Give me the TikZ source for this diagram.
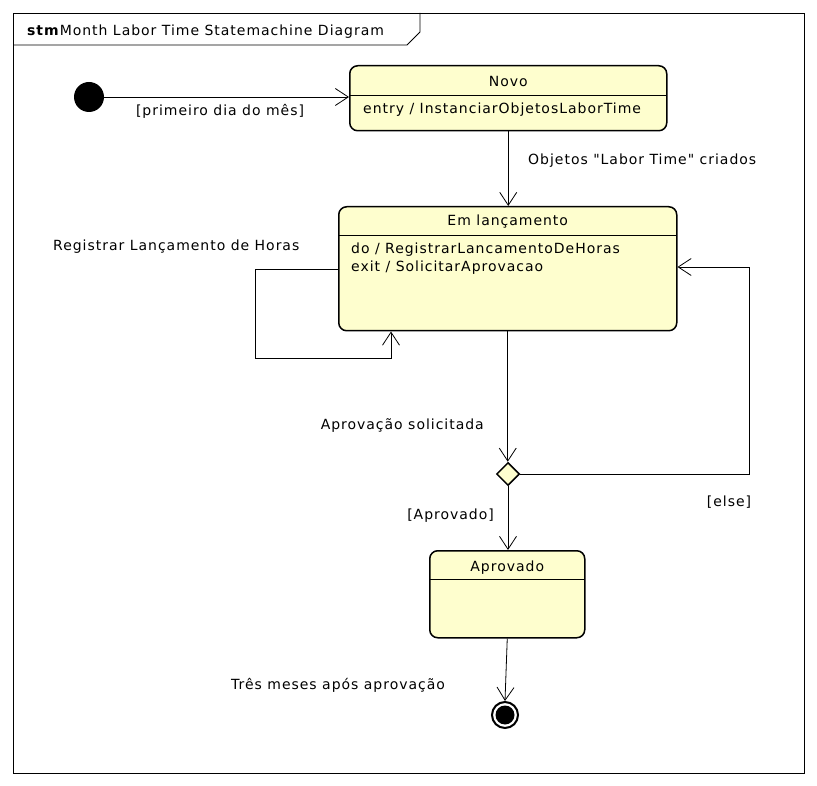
\documentclass[tikz,border=0pt]{standalone}
\usepackage{fontspec}
\setmainfont{DejaVu Sans}[LetterSpace=7, Ligatures=TeXOff]
\usetikzlibrary{arrows.meta,shapes.geometric}
\definecolor{statefill}{HTML}{FEFECE}
\tikzset{
  state/.style={draw, line width=1.5pt, fill=statefill, rounded corners=8pt, inner sep=0pt, anchor=north west},
  trans/.style={line width=0.8pt, -{Straight Barb[length=13pt,width=17pt,line width=0.8pt]}},
  lbl/.style={inner sep=0pt, font=\fontsize{14}{16}\selectfont},
}

\begin{document}
\begin{tikzpicture}[x=1pt,y=-1pt]
        \useasboundingbox (0,0) rectangle (817,786);
        \fill[white] (0,0) rectangle (817,786);

        % frame
        \draw[line width=0.8pt] (13,13) rectangle (804,773);
        \draw[line width=0.8pt] (13,45) -- (407,45) -- (420,32) -- (420,13);
        \node[lbl, anchor=base west] (title) at (27,36) {\textbf{stm}Month Labor Time Statemachine Diagram};

        % states
        \node[circle, fill=black, minimum size=30pt, inner sep=0pt] (init) at (89,97) {};

        \node[state, minimum width=317pt, minimum height=65pt] (novo) at (349,65) {};
        \draw[line width=0.8pt] (349,95) -- (666,95);
        \node[lbl, anchor=base] (novoname) at (novo.north |- 0,87) {Novo};
        \node[lbl, anchor=base west] (novoentry) at (363,114) {entry / InstanciarObjetosLaborTime};

        \node[state, minimum width=338pt, minimum height=124pt] (emlanc) at (338,206) {};
        \draw[line width=0.8pt] (338,235) -- (676,235);
        \node[lbl, anchor=base] (emlancname) at (emlanc.north |- 0,226) {Em lançamento};
        \node[lbl, anchor=base west] (emlancdo) at (351,254) {do / RegistrarLancamentoDeHoras};
        \node[lbl, anchor=base west] (emlancexit) at (351,272) {exit / SolicitarAprovacao};

        \node[diamond, draw, fill=statefill, line width=1.5pt, minimum size=23pt, inner sep=0pt] (choice) at (508,474) {};

        \node[state, minimum width=155pt, minimum height=87pt] (aprovado) at (429,550) {};
        \draw[line width=0.8pt] (429,579) -- (584,579);
        \node[lbl, anchor=base] (aprovadoname) at (aprovado.north |- 0,571) {Aprovado};

        \node[circle, draw, line width=2pt, fill=white, minimum size=26pt, inner sep=0pt] (final) at (505,715) {};
        \fill (final) circle (9.5);

        % transitions
        \coordinate (loopa) at (255,269);
        \coordinate (loopb) at (391,358);
        \coordinate (elsec) at (749,267);

        \draw[trans] (init) -- (init -| novo.west);
        \draw[trans] (novo.south) -- (novo.south |- emlanc.north);
        \draw[trans] (emlanc.west |- loopa) -- (loopa) |- (loopb) -- (loopb |- emlanc.south);
        \draw[trans] (emlanc.south) -- (emlanc.south |- choice.north);
        \draw[trans] (choice.east) -| (elsec) -- (elsec -| emlanc.east);
        \draw[trans] (choice.south) -- (choice.south |- aprovado.north);
        \draw[trans] (aprovado.south) -- (final.north);

        % labels
        \node[lbl, anchor=base] (lblinit) at (220,116) {[primeiro dia do mês]};
        \node[lbl, anchor=base west] (lblnovo) at (528,165) {Objetos "Labor Time" criados};
        \node[lbl, anchor=base west] (lblloop) at (53,251) {Registrar Lançamento de Horas};
        \node[lbl, anchor=base east] (lblsolic) at (484,429) {Aprovação solicitada};
        \node[lbl, anchor=base] (lblelse) at (729,506) {[else]};
        \node[lbl, anchor=base east] (lblaprov) at (494,519) {[Aprovado]};
        \node[lbl, anchor=base west] (lblfinal) at (231,689) {Três meses após aprovação};
    \end{tikzpicture}
\end{document}
